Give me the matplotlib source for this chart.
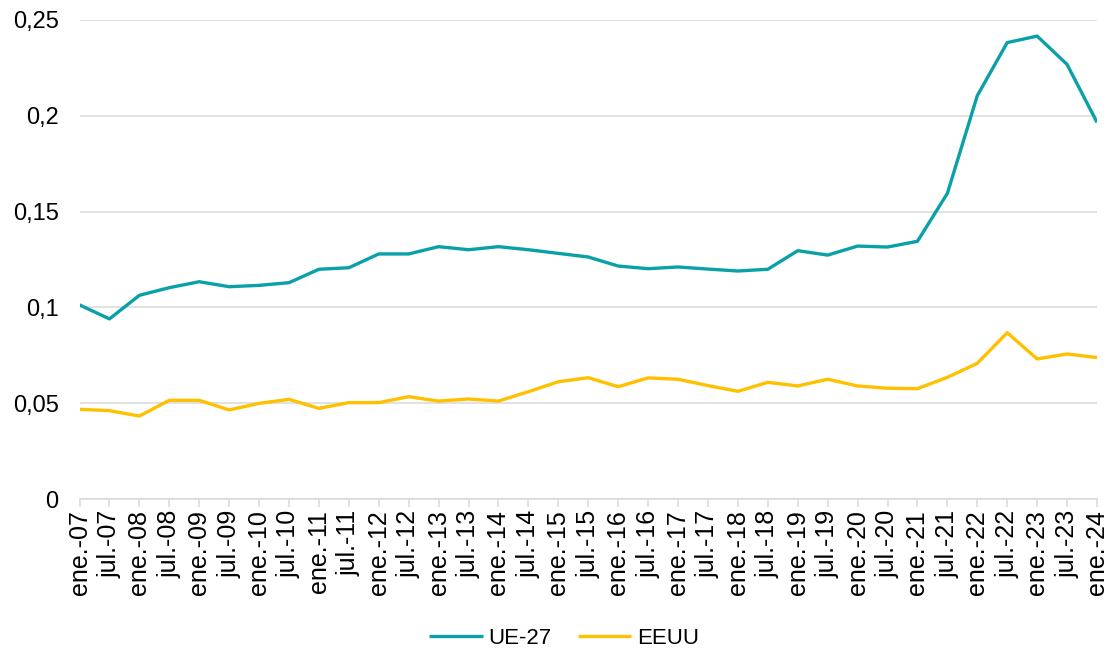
import matplotlib
matplotlib.use("Agg")
import matplotlib.pyplot as plt
from matplotlib.ticker import FuncFormatter, MultipleLocator

# half-year periods, ene.-07 .. ene.-24
periods = []
for yr in range(7, 24):
    periods += [f"ene.-{yr:02d}", f"jul.-{yr:02d}"]
periods.append("ene.-24")

ue27 = [0.1013, 0.0940, 0.1063, 0.1103, 0.1134, 0.1108, 0.1115, 0.1129,
        0.1199, 0.1207, 0.1279, 0.1279, 0.1317, 0.1301, 0.1317, 0.1301,
        0.1282, 0.1263, 0.1216, 0.1202, 0.1211, 0.1200, 0.1190, 0.1199,
        0.1296, 0.1273, 0.1320, 0.1315, 0.1345, 0.1595, 0.2105, 0.2382,
        0.2416, 0.2268, 0.1966]

eeuu = [0.0468, 0.0461, 0.0433, 0.0515, 0.0515, 0.0465, 0.0499, 0.0520,
        0.0473, 0.0503, 0.0503, 0.0534, 0.0511, 0.0522, 0.0511, 0.0560,
        0.0612, 0.0633, 0.0586, 0.0632, 0.0625, 0.0592, 0.0562, 0.0609,
        0.0590, 0.0625, 0.0590, 0.0578, 0.0576, 0.0635, 0.0708, 0.0868,
        0.0731, 0.0757, 0.0738]

plt.rcParams['font.family'] = ['Liberation Sans', 'DejaVu Sans']

W, H = 1112, 652
fig = plt.figure(figsize=(W / 100, H / 100), dpi=100)
ax = fig.add_axes([79.5 / W, 1 - 499 / H, (1097 - 79.5) / W, (499 - 20) / H])

x = list(range(len(periods)))
ax.plot(x, ue27, color='#0AA0A8', lw=2.4, label='UE-27', solid_capstyle='butt')
ax.plot(x, eeuu, color='#FFC000', lw=2.4, label='EEUU', solid_capstyle='butt')

ax.set_xlim(0, len(periods) - 1)
ax.set_ylim(0, 0.25)
ax.yaxis.set_major_locator(MultipleLocator(0.05))
ax.yaxis.set_major_formatter(FuncFormatter(lambda v, p: f"{v:g}".replace('.', ',')))

ax.grid(axis='y', color='#D9D9D9', lw=1.1)
ax.set_axisbelow(True)
for side in ['left', 'right', 'top']:
    ax.spines[side].set_visible(False)
ax.spines['bottom'].set_color('#D9D9D9')
ax.spines['bottom'].set_linewidth(1.1)

ax.set_xticks(x)
ax.set_xticklabels(periods, rotation=90, fontsize=18)
ax.tick_params(axis='x', length=6, color='#D9D9D9', width=1.1, pad=2, labelcolor='black')
ax.tick_params(axis='y', length=0, pad=15, labelsize=17, labelcolor='black')

fig.legend(loc='center', bbox_to_anchor=(564 / W, 1 - 638 / H), ncol=2, frameon=False,
           fontsize=16, handlelength=2.4, columnspacing=1.2, handletextpad=0.25)

fig.savefig('out.png', dpi=100)
